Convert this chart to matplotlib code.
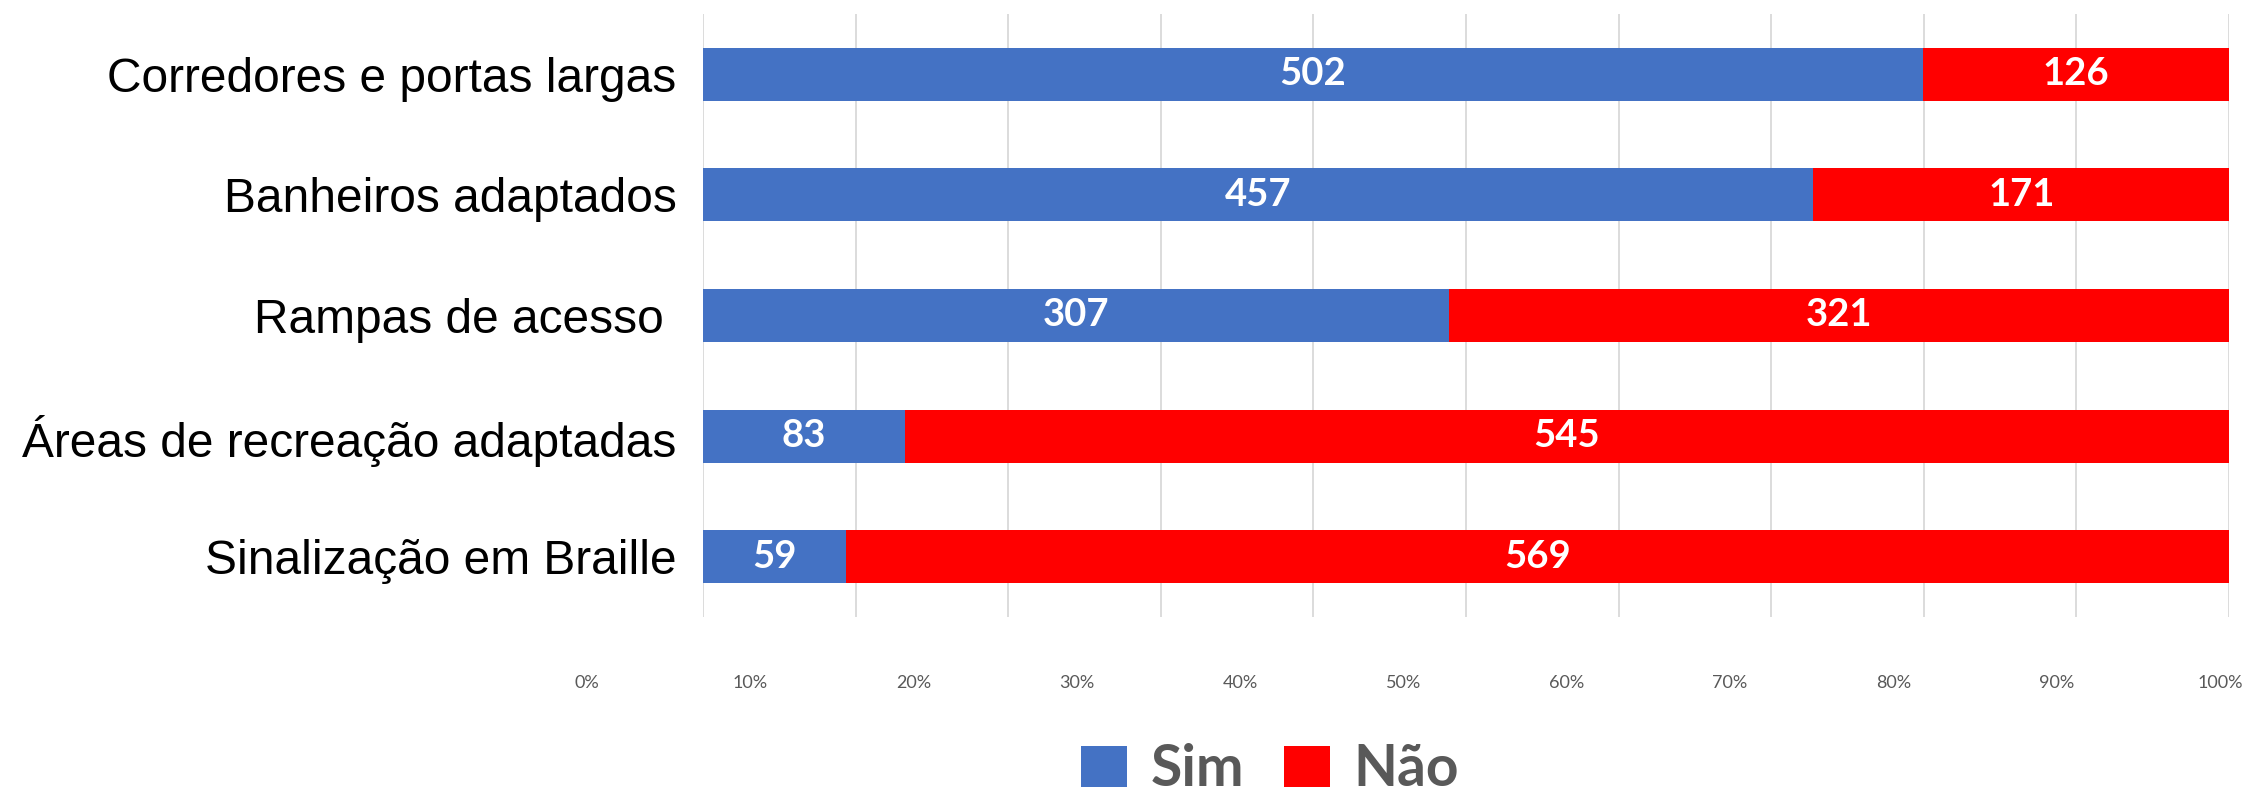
import matplotlib

matplotlib.use("Agg")
import matplotlib.pyplot as plt
from matplotlib.patches import Patch
import numpy as np

categories = [
    "Corredores e portas largas",
    "Banheiros adaptados",
    "Rampas de acesso ",
    "Áreas de recreação adaptadas",
    "Sinalização em Braille",
]
sim = [502, 457, 307, 83, 59]
nao = [126, 171, 321, 545, 569]
tick_values = list(range(0, 101, 10))
tick_labels = [f"{v}%" for v in tick_values]

BLUE = "#4472C4"
RED = "#FF0000"
GRID = "#D9D9D9"
GREY_TXT = "#595959"

sim_a = np.array(sim, dtype=float)
nao_a = np.array(nao, dtype=float)
total = sim_a + nao_a
sim_pct = sim_a / total * 100
nao_pct = nao_a / total * 100

W, H = 2260, 799
fig = plt.figure(figsize=(W / 100, H / 100), dpi=100)
ax = fig.add_axes([703 / W, 1 - 617 / H, (2229 - 703) / W, (617 - 14) / H])

y = np.arange(len(categories))
b1 = ax.barh(y, sim_pct, height=0.44, color=BLUE, zorder=2)
b2 = ax.barh(y, nao_pct, left=sim_pct, height=0.44, color=RED, zorder=2)

lab_font = dict(family=["Lato", "DejaVu Sans"], weight="bold", size=27.5, color="white")
ax.bar_label(b1, labels=[str(v) for v in sim], label_type="center", **lab_font)
ax.bar_label(b2, labels=[str(v) for v in nao], label_type="center", **lab_font)

ax.set_xlim(0, 100)
ax.set_ylim(len(categories) - 0.5, -0.5)
ax.set_xticks(tick_values)
ax.set_xticklabels([])
ax.tick_params(axis="x", length=0)
ax.grid(axis="x", color=GRID, linewidth=1.3, zorder=0)
ax.set_axisbelow(True)
for s in ax.spines.values():
    s.set_visible(False)

ax.set_yticks(y)
ax.set_yticklabels(categories, family=["Liberation Sans", "DejaVu Sans"], fontsize=34.5)
ax.tick_params(axis="y", length=0, pad=19)

# percentage labels sit on their own (slightly offset) scale, as in the source
axt = fig.add_axes([587 / W, 1 - 617 / H, (2220 - 587) / W, 0.0001])
axt.set_xlim(0, 100)
axt.set_xticks(tick_values)
axt.set_xticklabels(tick_labels, family=["Lato", "DejaVu Sans"], fontsize=13, color=GREY_TXT)
axt.tick_params(axis="x", length=0, pad=42)
axt.set_yticks([])
for s in axt.spines.values():
    s.set_visible(False)
axt.patch.set_visible(False)

handles = [Patch(facecolor=BLUE), Patch(facecolor=RED)]
fig.legend(
    handles, ["Sim", "Não"], ncol=2, loc="center",
    bbox_to_anchor=(1270 / W, 1 - 770 / H), frameon=False,
    prop=dict(family=["Lato", "DejaVu Sans"], weight="bold", size=41),
    labelcolor=GREY_TXT, handlelength=0.8, handleheight=0.73,
    handletextpad=0.42, columnspacing=0.7, borderpad=0,
)

fig.savefig("out.png", dpi=100)
